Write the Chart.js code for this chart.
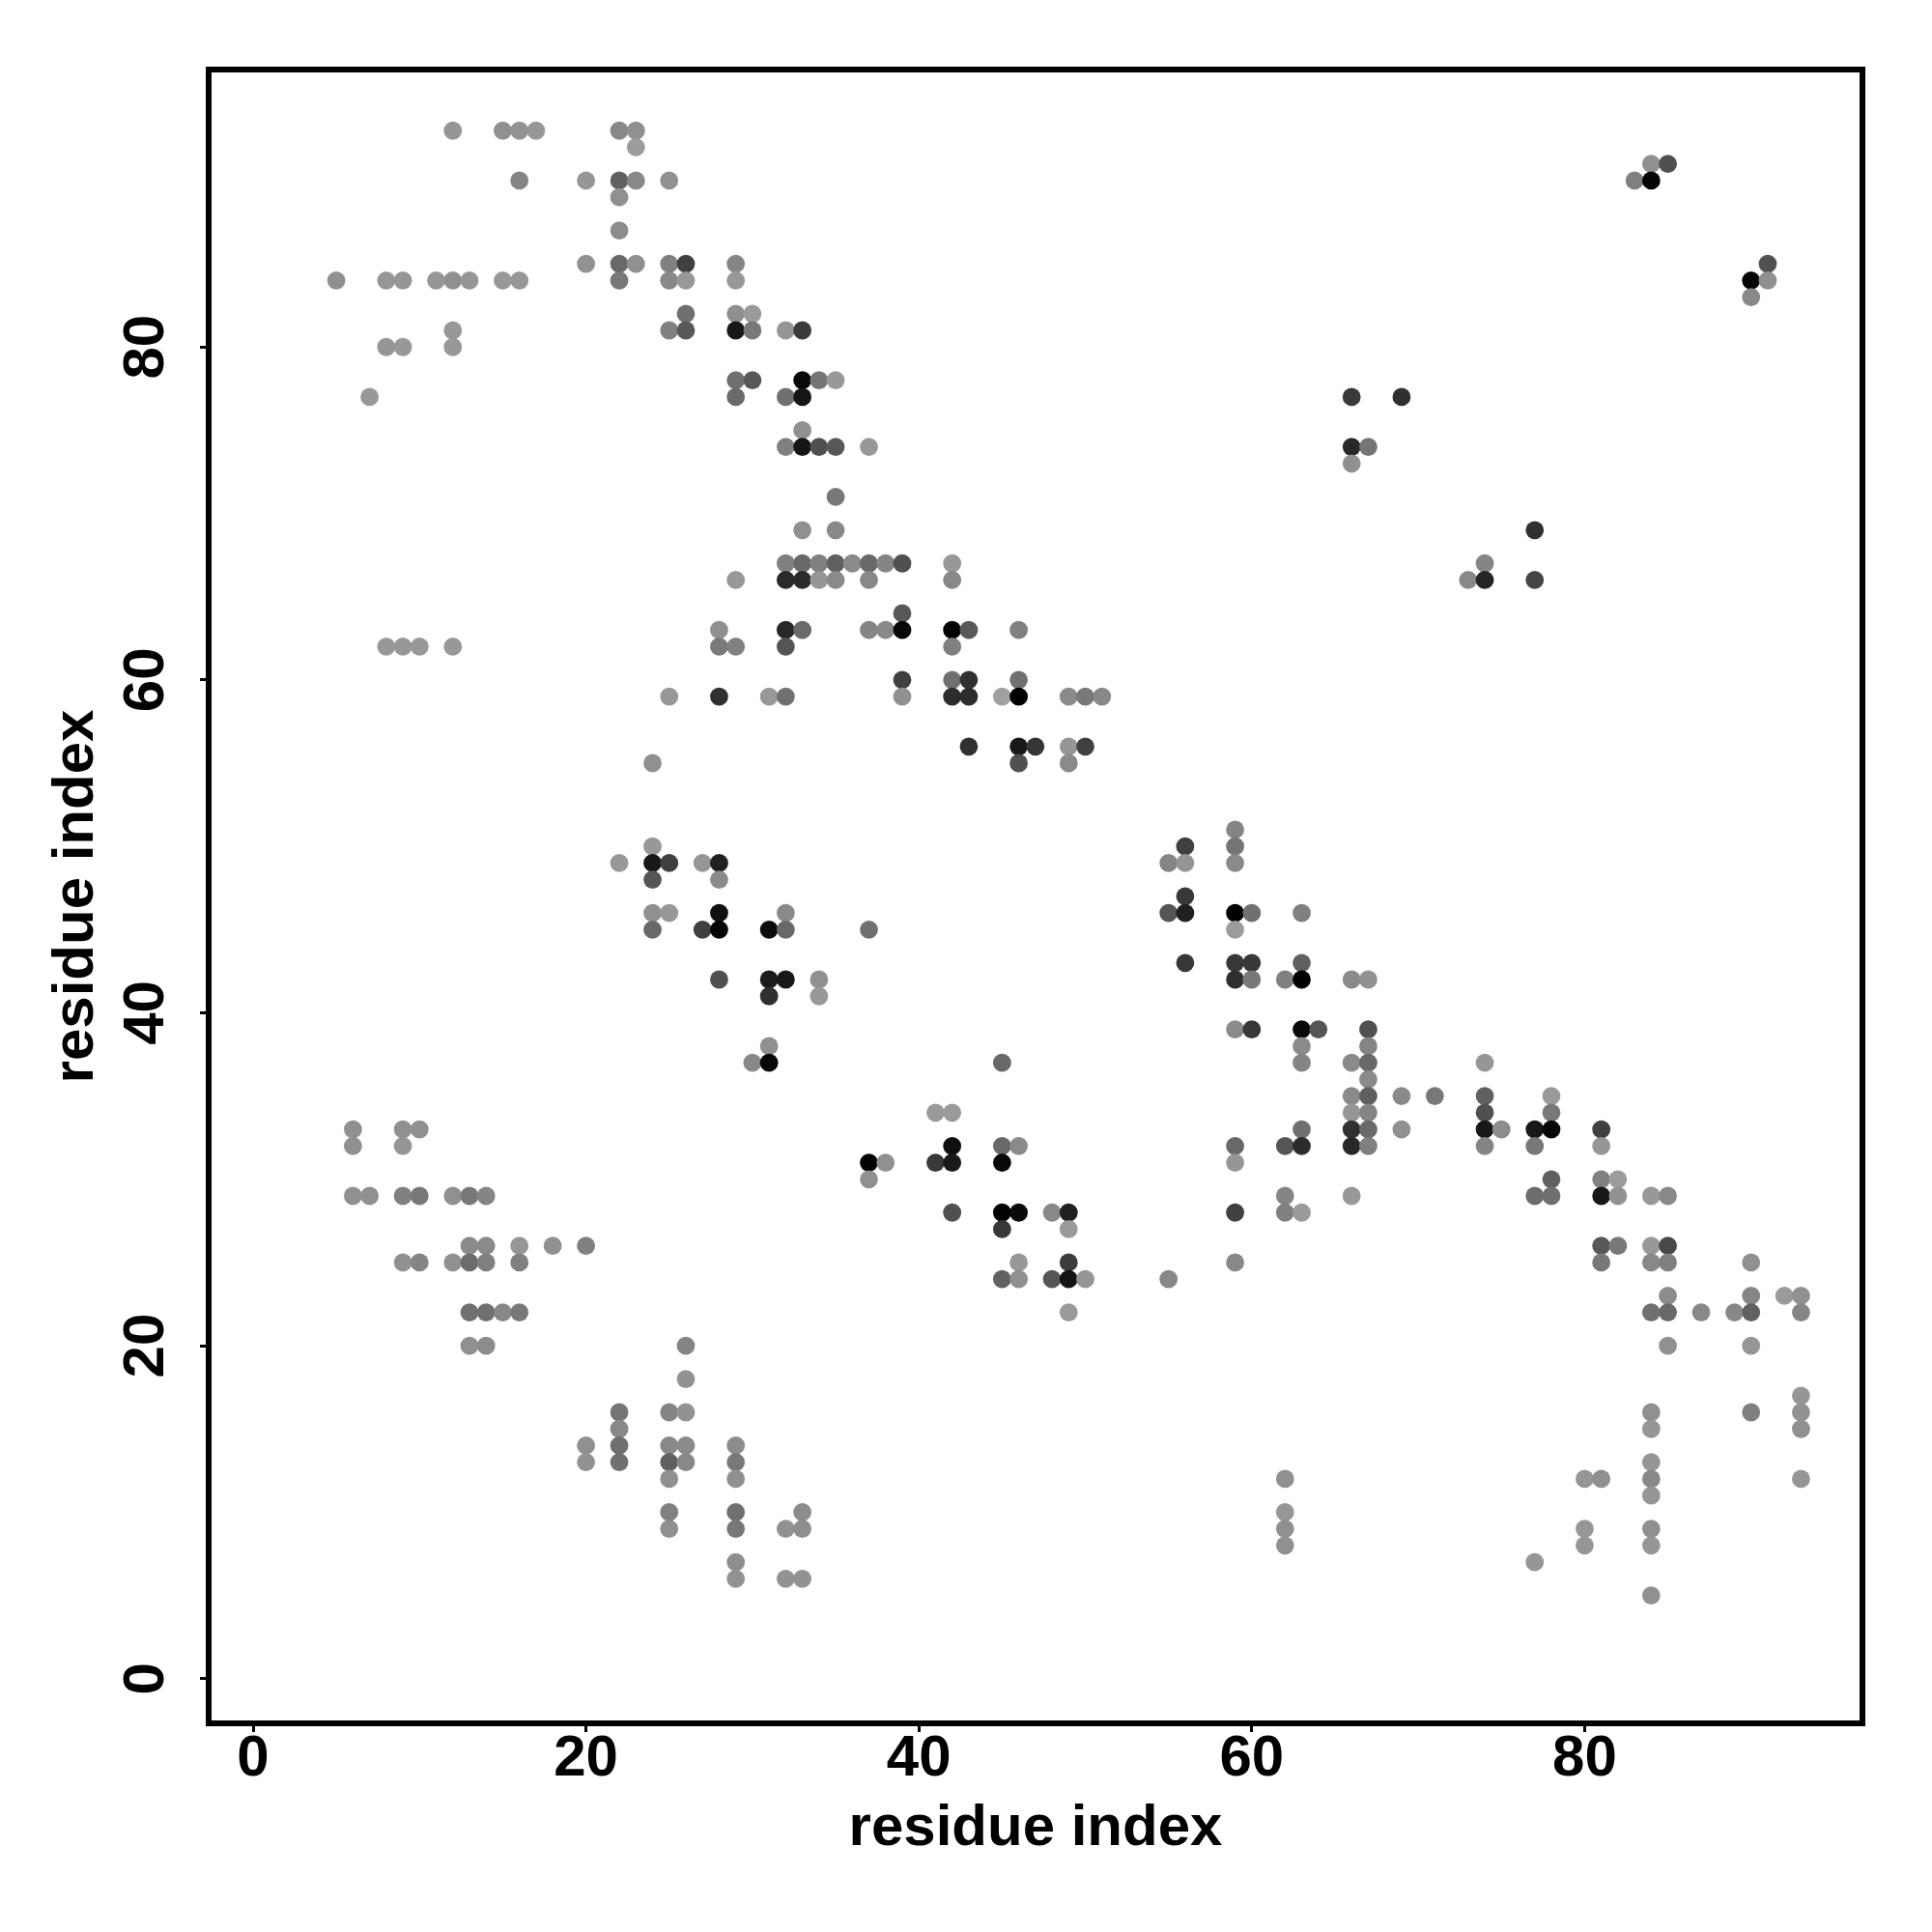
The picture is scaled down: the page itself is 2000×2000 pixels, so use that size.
<!DOCTYPE html>
<html>
<head>
<meta charset="utf-8">
<title>residue contacts</title>
<script src="https://cdn.jsdelivr.net/npm/chart.js@4"></script>
<style>
    html, body { margin: 0; padding: 0; background: #fff; }
    canvas { display: block; }
</style>
</head>
<body>
<canvas id="contactChart" width="2000" height="2000"></canvas>
<script>
const axisTitle = 'residue index';
const tickValues = [0, 20, 40, 60, 80];

// one entry per row of the plot, top to bottom
const rowY = [93, 92, 91, 90, 89, 87, 85, 84, 83, 82, 81, 80, 78, 77, 75, 74, 73, 71, 69, 67, 66, 64, 63, 62, 60, 59, 56, 55,
    51, 50, 49, 48, 47, 46, 45, 43, 42, 41, 39, 38, 37, 36, 35, 34, 33, 32, 31, 30, 29, 28, 27, 26, 25, 24, 23, 22, 20,
    18, 17, 16, 15, 14, 13, 12, 11, 10, 9, 8, 7, 6, 5];

const rowX = [
    [12, 15, 16, 17, 22, 23],
    [23],
    [84, 85],
    [16, 20, 22, 23, 25, 83, 84],
    [22],
    [22],
    [20, 22, 23, 25, 26, 29, 91],
    [5, 8, 9, 11, 12, 13, 15, 16, 22, 25, 26, 29, 90, 91],
    [90],
    [26, 29, 30],
    [12, 25, 26, 29, 30, 32, 33],
    [8, 9, 12],
    [29, 30, 33, 34, 35],
    [7, 29, 32, 33, 66, 69],
    [33],
    [32, 33, 34, 35, 37, 66, 67],
    [66],
    [35],
    [33, 35, 77],
    [32, 33, 34, 35, 36, 37, 38, 39, 42, 74],
    [29, 32, 33, 34, 35, 37, 42, 73, 74, 77],
    [39],
    [28, 32, 33, 37, 38, 39, 42, 43, 46],
    [8, 9, 10, 12, 28, 29, 32, 42],
    [39, 42, 43, 46],
    [25, 28, 31, 32, 39, 42, 43, 45, 46, 49, 50, 51],
    [43, 46, 47, 49, 50],
    [24, 46, 49],
    [59],
    [24, 56, 59],
    [22, 24, 25, 27, 28, 55, 56, 59],
    [24, 28],
    [56],
    [24, 25, 28, 32, 55, 56, 59, 60, 63],
    [24, 27, 28, 31, 32, 37, 59],
    [56, 59, 60, 63],
    [28, 31, 32, 34, 59, 60, 62, 63, 66, 67],
    [31, 34],
    [59, 60, 63, 64, 67],
    [31, 63, 67],
    [30, 31, 45, 63, 66, 67, 74],
    [67],
    [66, 67, 69, 71, 74, 78],
    [41, 42, 66, 67, 74, 78],
    [6, 9, 10, 63, 66, 67, 69, 74, 75, 77, 78, 81],
    [6, 9, 42, 45, 46, 59, 62, 63, 66, 67, 74, 77, 81],
    [37, 38, 41, 42, 45, 59],
    [37, 78, 81, 82],
    [6, 7, 9, 10, 12, 13, 14, 62, 66, 77, 78, 81, 82, 84, 85],
    [42, 45, 46, 48, 49, 59, 62, 63],
    [45, 49],
    [13, 14, 16, 18, 20, 81, 82, 84, 85],
    [9, 10, 12, 13, 14, 16, 46, 49, 59, 81, 84, 85, 90],
    [45, 46, 48, 49, 50, 55],
    [85, 90, 92, 93],
    [13, 14, 15, 16, 49, 84, 85, 87, 89, 90, 93],
    [13, 14, 26, 85, 90],
    [26],
    [93],
    [22, 25, 26, 84, 90, 93],
    [22, 84, 93],
    [20, 22, 25, 26, 29],
    [20, 22, 25, 26, 29, 84],
    [25, 29, 62, 80, 81, 84, 93],
    [84],
    [25, 29, 33, 62],
    [25, 29, 32, 33, 62, 80, 84],
    [62, 80, 84],
    [29, 77],
    [29, 32, 33],
    [84]
];

// grey level of each point (0x00 black)
const rowGrey = [
    [0x96, 0x90, 0x93, 0x96, 0x88, 0x90],
    [0x9c],
    [0x90, 0x50],
    [0x85, 0x96, 0x60, 0x88, 0x90, 0x80, 0x05],
    [0x90],
    [0x8c],
    [0x92, 0x68, 0x90, 0x80, 0x40, 0x85, 0x50],
    [0x90, 0x96, 0x96, 0x96, 0x90, 0x96, 0x98, 0x96, 0x78, 0x88, 0x98, 0x98, 0x05, 0x90],
    [0x88],
    [0x70, 0x90, 0x9a],
    [0x98, 0x80, 0x58, 0x18, 0x78, 0x96, 0x3a],
    [0x96, 0x98, 0x98],
    [0x70, 0x58, 0x08, 0x75, 0x98],
    [0x98, 0x6a, 0x70, 0x15, 0x3a, 0x30],
    [0x90],
    [0x80, 0x15, 0x50, 0x58, 0x98, 0x28, 0x75],
    [0x90],
    [0x78],
    [0x90, 0x88, 0x30],
    [0x80, 0x68, 0x80, 0x60, 0x8a, 0x68, 0x85, 0x50, 0x98, 0x85],
    [0x98, 0x2a, 0x2a, 0x96, 0x8a, 0x88, 0x88, 0x88, 0x25, 0x45],
    [0x58],
    [0x90, 0x28, 0x6a, 0x85, 0x88, 0x08, 0x00, 0x58, 0x80],
    [0x98, 0x98, 0x98, 0x98, 0x7a, 0x80, 0x55, 0x80],
    [0x40, 0x70, 0x30, 0x70],
    [0x98, 0x30, 0x98, 0x70, 0x90, 0x2c, 0x2c, 0xa0, 0x00, 0x8a, 0x78, 0x88],
    [0x30, 0x18, 0x35, 0x96, 0x40],
    [0x90, 0x50, 0x8a],
    [0x85],
    [0x98, 0x40, 0x75],
    [0x98, 0x18, 0x40, 0x96, 0x20, 0x85, 0x95, 0x8a],
    [0x55, 0x8a],
    [0x38],
    [0x90, 0x98, 0x10, 0x8a, 0x55, 0x20, 0x00, 0x70, 0x80],
    [0x68, 0x40, 0x05, 0x0c, 0x68, 0x70, 0x9c],
    [0x38, 0x38, 0x38, 0x60],
    [0x50, 0x1c, 0x18, 0x90, 0x30, 0x78, 0x80, 0x00, 0x8a, 0x92],
    [0x30, 0x98],
    [0x8a, 0x38, 0x08, 0x55, 0x50],
    [0x90, 0x8a, 0x85],
    [0x88, 0x08, 0x68, 0x85, 0x8a, 0x68, 0x96],
    [0x8a],
    [0x8a, 0x60, 0x8a, 0x78, 0x60, 0x9a],
    [0x9a, 0x9a, 0x96, 0x85, 0x50, 0x78],
    [0x90, 0x90, 0x90, 0x70, 0x30, 0x6a, 0x90, 0x18, 0x8c, 0x18, 0x08, 0x40],
    [0x90, 0x96, 0x10, 0x68, 0x8a, 0x68, 0x55, 0x2c, 0x28, 0x80, 0x85, 0x78, 0x96],
    [0x02, 0x90, 0x38, 0x1a, 0x08, 0x96],
    [0x90, 0x60, 0x80, 0x9c],
    [0x90, 0x90, 0x80, 0x78, 0x90, 0x78, 0x85, 0x85, 0x98, 0x6c, 0x70, 0x18, 0x92, 0x98, 0x88],
    [0x50, 0x02, 0x0a, 0x88, 0x20, 0x40, 0x80, 0x9a],
    [0x38, 0x9a],
    [0x8a, 0x8a, 0x96, 0x90, 0x80, 0x58, 0x78, 0x98, 0x48],
    [0x90, 0x85, 0x90, 0x6c, 0x80, 0x80, 0x98, 0x3c, 0x88, 0x78, 0x88, 0x80, 0x90],
    [0x62, 0x90, 0x55, 0x14, 0x96, 0x88],
    [0x8c, 0x85, 0x9a, 0x90],
    [0x70, 0x70, 0x88, 0x78, 0x9a, 0x70, 0x68, 0x88, 0x88, 0x60, 0x85],
    [0x90, 0x8c, 0x85, 0x90, 0x96],
    [0x92],
    [0x96],
    [0x75, 0x85, 0x92, 0x90, 0x80, 0x92],
    [0x88, 0x96, 0x90],
    [0x90, 0x70, 0x88, 0x8a, 0x8c],
    [0x92, 0x70, 0x60, 0x88, 0x78, 0x96],
    [0x90, 0x90, 0x90, 0x96, 0x90, 0x88, 0x96],
    [0x96],
    [0x80, 0x70, 0x8c, 0x96],
    [0x90, 0x78, 0x92, 0x8e, 0x90, 0x96, 0x90],
    [0x90, 0x96, 0x96],
    [0x8e, 0x96],
    [0x92, 0x92, 0x92],
    [0x90]
];

// Flatten the rows into the point list the scatter dataset wants
const points = [];
const pointColors = [];
rowY.forEach((y, i) => {
    rowX[i].forEach((x, j) => {
        const g = rowGrey[i][j];
        points.push({ x: x, y: y });
        pointColors.push(`rgb(${g},${g},${g})`);
    });
});

const fontFamily = '"Liberation Sans", Arial, sans-serif';

// Heavy black frame around the plot area, the axes only give one side each
const framePlugin = {
    id: 'frame',
    afterDraw(chart) {
        const { ctx, chartArea } = chart;
        ctx.save();
        ctx.strokeStyle = '#000';
        ctx.lineWidth = 6;
        ctx.lineJoin = 'miter';
        ctx.strokeRect(chartArea.left, chartArea.top, chartArea.right - chartArea.left, chartArea.bottom - chartArea.top);
        ctx.restore();
    }
};

function axisOptions(min, max, extra) {
    return Object.assign({
        type: 'linear',
        min: min,
        max: max,
        afterBuildTicks(scale) {
            scale.ticks = tickValues.map(v => ({ value: v }));
        },
        border: { display: false },
        grid: {
            display: true,
            drawOnChartArea: false,
            drawTicks: true,
            tickLength: 9,
            tickWidth: 3,
            tickColor: '#000'
        }
    }, extra);
}

const chart = new Chart(document.getElementById('contactChart').getContext('2d'), {
    type: 'scatter',
    data: {
        datasets: [{
            label: axisTitle,
            data: points,
            pointRadius: 9.4,
            pointBorderWidth: 0,
            pointBackgroundColor: pointColors,
            showLine: false
        }]
    },
    options: {
        responsive: false,
        animation: false,
        layout: { padding: { top: 72, right: 72, left: 0, bottom: 0 } },
        plugins: { legend: { display: false }, tooltip: { enabled: false } },
        scales: {
            x: axisOptions(-2.67, 96.69, {
                afterFit(scale) { scale.height = 216; },
                ticks: {
                    autoSkip: false, minRotation: 0, maxRotation: 0, padding: -2, color: '#000',
                    font: { family: fontFamily, size: 60, weight: 'bold', lineHeight: 1 }
                },
                title: {
                    display: true, text: axisTitle, color: '#000', padding: { top: 0, bottom: 71 },
                    font: { family: fontFamily, size: 60, weight: 'bold' }
                }
            }),
            y: axisOptions(-2.687, 96.67, {
                afterFit(scale) { scale.width = 216; },
                ticks: {
                    autoSkip: false, minRotation: 90, maxRotation: 90, crossAlign: 'center', padding: 21, color: '#000',
                    font: { family: fontFamily, size: 60, weight: 'bold', lineHeight: 1 }
                },
                title: {
                    display: true, text: axisTitle, color: '#000', padding: { top: 43, bottom: 0 },
                    font: { family: fontFamily, size: 60, weight: 'bold' }
                }
            })
        }
    },
    plugins: [framePlugin]
});
</script>
</body>
</html>
